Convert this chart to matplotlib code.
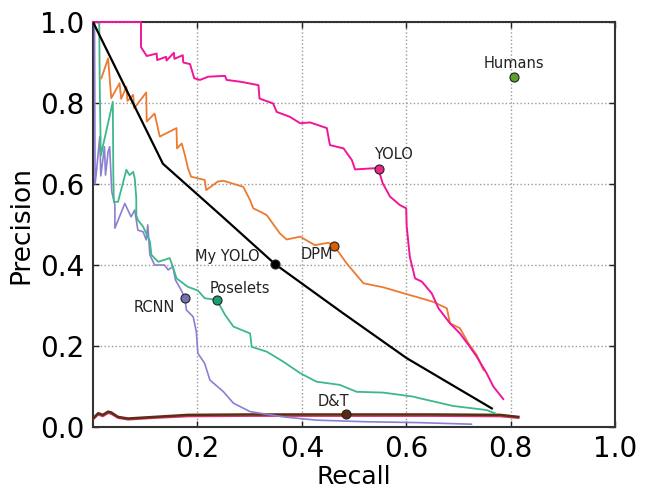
import matplotlib
matplotlib.use("Agg")
import matplotlib.pyplot as plt

# ---------------- data ----------------
yolo_r = [0.000, 0.092, 0.092, 0.103, 0.122, 0.123, 0.140, 0.141, 0.155, 0.156, 0.172, 0.173, 0.186, 0.194, 0.205,
          0.221, 0.253, 0.256, 0.285, 0.317, 0.319, 0.345, 0.352, 0.377, 0.397, 0.416, 0.448, 0.454, 0.480, 0.496,
          0.502, 0.540, 0.547, 0.555, 0.569, 0.588, 0.600, 0.601, 0.607, 0.617, 0.630, 0.649, 0.662, 0.684, 0.703,
          0.722, 0.735, 0.754, 0.767, 0.786]
yolo_p = [1.000, 1.000, 0.938, 0.916, 0.922, 0.906, 0.914, 0.905, 0.924, 0.909, 0.918, 0.900, 0.896, 0.861, 0.857,
          0.865, 0.867, 0.857, 0.852, 0.844, 0.811, 0.799, 0.778, 0.766, 0.750, 0.752, 0.738, 0.696, 0.688, 0.659,
          0.636, 0.639, 0.636, 0.602, 0.569, 0.548, 0.540, 0.495, 0.420, 0.367, 0.359, 0.330, 0.293, 0.256, 0.231,
          0.198, 0.174, 0.133, 0.100, 0.069]

dpm_r = [0.016, 0.029, 0.035, 0.051, 0.054, 0.064, 0.066, 0.077, 0.079, 0.102, 0.103, 0.118, 0.128, 0.160, 0.161,
         0.170, 0.176, 0.182, 0.188, 0.214, 0.217, 0.239, 0.250, 0.288, 0.301, 0.307, 0.326, 0.333, 0.358, 0.371,
         0.397, 0.425, 0.451, 0.462, 0.486, 0.518, 0.556, 0.601, 0.623, 0.652, 0.678, 0.684, 0.703, 0.719, 0.735,
         0.748]
dpm_p = [0.861, 0.910, 0.812, 0.849, 0.810, 0.840, 0.805, 0.820, 0.787, 0.826, 0.754, 0.774, 0.717, 0.738, 0.688,
         0.700, 0.672, 0.639, 0.618, 0.610, 0.585, 0.606, 0.608, 0.593, 0.560, 0.540, 0.528, 0.523, 0.478, 0.463,
         0.470, 0.449, 0.455, 0.447, 0.404, 0.355, 0.345, 0.328, 0.320, 0.309, 0.293, 0.256, 0.244, 0.207, 0.178,
         0.141]

pos_r = [0.012, 0.013, 0.015, 0.038, 0.039, 0.040, 0.048, 0.064, 0.070, 0.077, 0.080, 0.083, 0.083, 0.086, 0.096,
         0.109, 0.112, 0.125, 0.147, 0.153, 0.160, 0.182, 0.201, 0.214, 0.237, 0.253, 0.269, 0.301, 0.304, 0.333,
         0.365, 0.397, 0.428, 0.473, 0.505, 0.556, 0.614, 0.626, 0.690, 0.754, 0.770]
pos_p = [1.000, 0.840, 0.670, 0.803, 0.620, 0.556, 0.556, 0.635, 0.622, 0.630, 0.614, 0.565, 0.523, 0.511, 0.495,
         0.458, 0.425, 0.408, 0.417, 0.396, 0.367, 0.346, 0.337, 0.318, 0.314, 0.277, 0.248, 0.231, 0.198, 0.186,
         0.161, 0.133, 0.112, 0.104, 0.087, 0.085, 0.075, 0.071, 0.052, 0.042, 0.034]

rcnn_r = [0.003, 0.004, 0.006, 0.013, 0.015, 0.022, 0.024, 0.029, 0.032, 0.036, 0.042, 0.042, 0.061, 0.073, 0.080,
          0.086, 0.096, 0.102, 0.105, 0.109, 0.118, 0.137, 0.144, 0.153, 0.158, 0.169, 0.176, 0.179, 0.192, 0.198,
          0.201, 0.214, 0.224, 0.250, 0.269, 0.301, 0.365, 0.428, 0.524, 0.620, 0.725]
rcnn_p = [1.000, 0.600, 0.622, 0.717, 0.620, 0.692, 0.622, 0.680, 0.692, 0.581, 0.548, 0.491, 0.552, 0.519, 0.536,
          0.486, 0.482, 0.462, 0.499, 0.425, 0.400, 0.400, 0.388, 0.396, 0.363, 0.338, 0.318, 0.289, 0.272, 0.235,
          0.182, 0.157, 0.116, 0.087, 0.059, 0.038, 0.025, 0.017, 0.013, 0.011, 0.007]

dt_r = [0.000, 0.010, 0.019, 0.029, 0.035, 0.048, 0.067, 0.118, 0.182, 0.300, 0.484, 0.650, 0.780, 0.815]
dt_p = [0.021, 0.034, 0.030, 0.038, 0.036, 0.025, 0.021, 0.025, 0.030, 0.031, 0.031, 0.031, 0.030, 0.025]
dt2_p = [0.018, 0.030, 0.026, 0.034, 0.032, 0.022, 0.018, 0.022, 0.026, 0.027, 0.027, 0.027, 0.026, 0.022]

myyolo_r = [0.000, 0.134, 0.250, 0.349, 0.479, 0.601, 0.764]
myyolo_p = [1.000, 0.650, 0.517, 0.402, 0.281, 0.170, 0.046]

point_names = ["Humans", "YOLO", "DPM", "Poselets", "RCNN", "My YOLO", "D&T"]
point_r = [0.807, 0.547, 0.462, 0.237, 0.176, 0.349, 0.484]
point_p = [0.863, 0.636, 0.447, 0.314, 0.318, 0.402, 0.031]
label_r = [0.806, 0.575, 0.428, 0.282, 0.117, 0.257, 0.461]
label_p = [0.898, 0.674, 0.425, 0.342, 0.296, 0.422, 0.062]

x_ticks = [0.2, 0.4, 0.6, 0.8, 1.0]
y_ticks = [0.0, 0.2, 0.4, 0.6, 0.8, 1.0]

# ---------------- style ----------------
point_colors = ["#5aa02c", "#e7298a", "#d95f02", "#1b9e77", "#7570b3", "#000000", "#5a2a12"]

fig = plt.figure(figsize=(6.47, 4.91), dpi=100)
ax = fig.add_axes([0.1437, 0.1303, 0.8068, 0.8249])

ax.plot(dt_r, dt2_p, color="#e0306a", lw=1.2, zorder=3)
ax.plot(dt_r, dt_p, color="#5c2c14", lw=1.8, zorder=3)
ax.plot(rcnn_r, rcnn_p, color="#8a80d2", lw=1.2, zorder=3)
ax.plot(pos_r, pos_p, color="#3cb88a", lw=1.3, zorder=3)
ax.plot(dpm_r, dpm_p, color="#ec7a30", lw=1.3, zorder=3)
ax.plot(yolo_r, yolo_p, color="#f0169a", lw=1.4, zorder=4, clip_on=False)
ax.plot(myyolo_r, myyolo_p, color="black", lw=1.6, zorder=5)

for name, r, p, lr, lp, c in zip(point_names, point_r, point_p, label_r, label_p, point_colors):
    ax.plot([r], [p], "o", ms=6.5, mfc=c, mec="#222222", mew=0.8, zorder=6)
    ax.text(lr, lp, name, ha="center", va="center", fontsize=10.5, color="#222222", zorder=7)

ax.set_xlim(0, 1)
ax.set_ylim(0, 1)
ax.set_xticks(x_ticks)
ax.set_yticks(y_ticks)
ax.set_xticklabels([f"{v:.1f}" for v in x_ticks])
ax.set_yticklabels([f"{v:.1f}" for v in y_ticks])
ax.tick_params(direction="in", length=4, width=1, labelsize=20, pad=6,
               top=True, right=True, colors="#222222")
ax.tick_params(labelcolor="black")
ax.grid(True, linestyle=":", color="#999999", lw=1)
for s in ax.spines.values():
    s.set_linewidth(1.5)
    s.set_color("#333333")

ax.set_xlabel("Recall", fontsize=18, labelpad=1)
ax.set_ylabel("Precision", fontsize=19, labelpad=4)

fig.savefig("out.png", dpi=100)
